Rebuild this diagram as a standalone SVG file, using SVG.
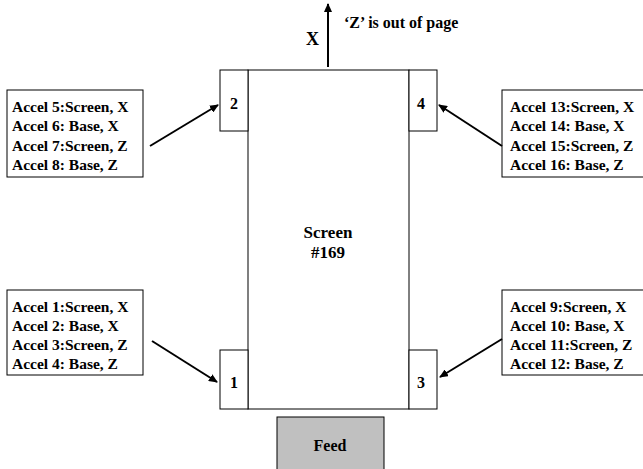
<svg xmlns="http://www.w3.org/2000/svg" width="643" height="469" viewBox="0 0 643 469">
<style>
text{font-family:"Liberation Serif","Times New Roman",serif;font-weight:bold;fill:#000}
.lbl{font-size:15.5px}
.num{font-size:16px;text-anchor:middle}
.box{fill:#fff;stroke:#000;stroke-width:1}
.con{stroke:#000;stroke-width:2;fill:none;marker-end:url(#ah)}
</style>
<defs>
<marker id="ah" markerWidth="9" markerHeight="8" refX="8" refY="4" orient="auto" markerUnits="userSpaceOnUse">
<path d="M0,0 L9,4 L0,8 z" fill="#000"/>
</marker>
</defs>
<g id="screen">
<rect class="box" x="248" y="70" width="161" height="339"/>
<text class="num" x="328" y="238" style="font-size:17px">Screen</text>
<text class="num" x="328" y="258" style="font-size:17px">#169</text>
</g>
<g id="sensor2"><rect class="box" x="220" y="70" width="28" height="61"/><text class="num" x="234" y="109">2</text></g>
<g id="sensor4"><rect class="box" x="409" y="70" width="28" height="61"/><text class="num" x="421" y="109">4</text></g>
<g id="sensor1"><rect class="box" x="220" y="350" width="28" height="59"/><text class="num" x="234" y="388">1</text></g>
<g id="sensor3"><rect class="box" x="409" y="350" width="28" height="59"/><text class="num" x="421" y="388">3</text></g>
<g id="feed"><rect x="277" y="417" width="107" height="56" fill="#c0c0c0" stroke="#000" stroke-width="1"/><text x="330" y="451" text-anchor="middle" style="font-size:16px">Feed</text></g>
<g id="labelTL"><rect class="box" x="7" y="90" width="136" height="87"/>
<text class="lbl" x="12" y="112">Accel 5:Screen, X</text>
<text class="lbl" x="12" y="131">Accel 6: Base, X</text>
<text class="lbl" x="12" y="151">Accel 7:Screen, Z</text>
<text class="lbl" x="12" y="170">Accel 8: Base, Z</text></g>
<g id="labelTR"><rect class="box" x="502" y="90" width="145" height="87"/>
<text class="lbl" x="510" y="112">Accel 13:Screen, X</text>
<text class="lbl" x="510" y="131">Accel 14: Base, X</text>
<text class="lbl" x="510" y="151">Accel 15:Screen, Z</text>
<text class="lbl" x="510" y="170">Accel 16: Base, Z</text></g>
<g id="labelBL"><rect class="box" x="7" y="290" width="136" height="85"/>
<text class="lbl" x="12" y="312">Accel 1:Screen, X</text>
<text class="lbl" x="12" y="331">Accel 2: Base, X</text>
<text class="lbl" x="12" y="350">Accel 3:Screen, Z</text>
<text class="lbl" x="12" y="369">Accel 4: Base, Z</text></g>
<g id="labelBR"><rect class="box" x="502" y="290" width="145" height="85"/>
<text class="lbl" x="510" y="312">Accel 9:Screen, X</text>
<text class="lbl" x="510" y="331">Accel 10: Base, X</text>
<text class="lbl" x="510" y="350">Accel 11:Screen, Z</text>
<text class="lbl" x="510" y="369">Accel 12: Base, Z</text></g>
<g id="axis">
<text x="306" y="45" style="font-size:18px">X</text>
<text x="344" y="28" style="font-size:16px">‘Z’ is out of page</text>
</g>
<g id="connectors">
<line class="con" x1="328" y1="67" x2="328" y2="4"/>
<line class="con" x1="150" y1="146" x2="218" y2="105"/>
<line class="con" x1="502" y1="146" x2="439" y2="105"/>
<line class="con" x1="152" y1="341" x2="217" y2="382"/>
<line class="con" x1="502" y1="339" x2="440" y2="377"/>
</g>
</svg>
